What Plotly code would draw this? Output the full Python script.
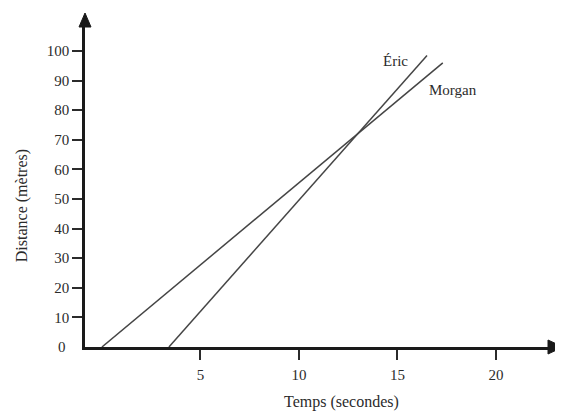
import plotly.graph_objects as go

# Data
morgan_t = [0.0, 17.3]
morgan_d = [0.0, 96.0]
eric_t = [3.4, 16.5]
eric_d = [0.0, 98.5]

x_ticks = [5, 10, 15, 20]
y_ticks = [10, 20, 30, 40, 50, 60, 70, 80, 90, 100]

series_names = ["Éric", "Morgan"]
label_pos = {"Éric": (14.9, 96.6), "Morgan": (17.8, 86.8)}

FONT = "Liberation Serif"
INK = "#2b2b2b"
LINE = "#454545"

fig = go.Figure()
fig.add_trace(go.Scatter(x=morgan_t, y=morgan_d, mode="lines",
                         line=dict(color=LINE, width=1.5), name="Morgan",
                         showlegend=False, hoverinfo="skip"))
fig.add_trace(go.Scatter(x=eric_t, y=eric_d, mode="lines",
                         line=dict(color=LINE, width=1.5), name="Éric",
                         showlegend=False, hoverinfo="skip"))

annotations = []
for name in series_names:
    lx, ly = label_pos[name]
    annotations.append(dict(x=lx, y=ly, xref="x", yref="y", text=name,
                            showarrow=False, font=dict(family=FONT, size=15, color=INK)))
# "0" label at the origin of the y axis (no tick mark there)
annotations.append(dict(x=0, y=0, xref="paper", yref="y", text="0",
                        showarrow=False, xanchor="right", yanchor="middle", xshift=-17,
                        font=dict(family=FONT, size=15, color=INK)))
# axis titles
annotations.append(dict(x=0.555, y=0, xref="paper", yref="paper", text="Temps (secondes)",
                        showarrow=False, xanchor="center", yanchor="middle", yshift=-55,
                        font=dict(family=FONT, size=16, color=INK)))
annotations.append(dict(x=0, y=0.44, xref="paper", yref="paper", text="Distance (mètres)",
                        showarrow=False, textangle=-90, xanchor="center", yanchor="middle",
                        xshift=-63, font=dict(family=FONT, size=16, color=INK)))

shapes = [
    # arrowhead on x axis
    dict(type="path", xref="paper", yref="paper", xsizemode="pixel", ysizemode="pixel",
         xanchor=1, yanchor=0, path="M 0,7 L 15,0 L 0,-7 Z",
         fillcolor="#1a1a1a", line=dict(color="#1a1a1a", width=1)),
    # arrowhead on y axis
    dict(type="path", xref="paper", yref="paper", xsizemode="pixel", ysizemode="pixel",
         xanchor=0, yanchor=1, path="M -6,0 L 0,14 L 6,0 Z",
         fillcolor="#1a1a1a", line=dict(color="#1a1a1a", width=1)),
]

# The page body adds an 8px margin, so the figure is sized 8px smaller.
fig.update_layout(
    width=555, height=406,
    margin=dict(l=77, r=15, t=19, b=67),
    paper_bgcolor="white", plot_bgcolor="white",
    showlegend=False,
    annotations=annotations,
    shapes=shapes,
    xaxis=dict(range=[-0.86, 22.64], showgrid=False, zeroline=False,
               showline=True, linecolor="#1a1a1a", linewidth=2.5,
               tickvals=x_ticks, ticks="outside", ticklen=10, tickwidth=1.5,
               tickcolor=INK, ticklabelstandoff=2,
               tickfont=dict(family=FONT, size=15, color=INK)),
    yaxis=dict(range=[0, 108.1], showgrid=False, zeroline=False,
               showline=True, linecolor="#1a1a1a", linewidth=2.5,
               tickvals=y_ticks, ticks="outside", ticklen=10, tickwidth=1.5,
               tickcolor=INK, ticklabelstandoff=0,
               tickfont=dict(family=FONT, size=15, color=INK)),
)

fig.write_html("out.html")
